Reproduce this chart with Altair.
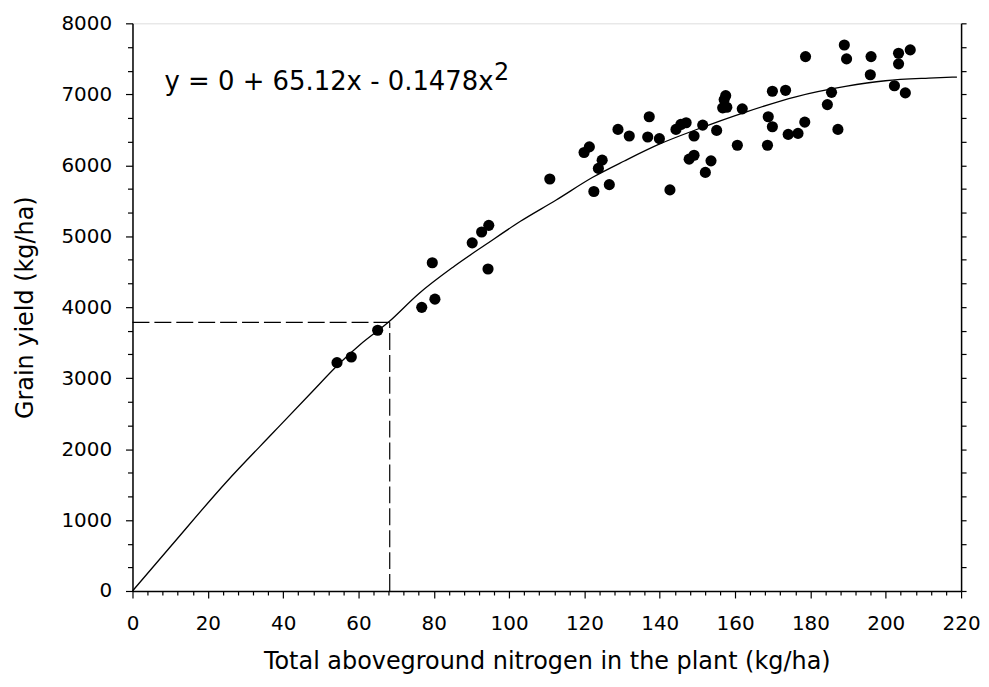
import altair as alt
import pandas as pd

nitrogen = [54.3, 58.1, 65.1, 76.8, 79.6, 80.3, 90.2, 92.7, 94.6, 94.4, 110.8, 119.9, 121.3, 122.5,
            123.7, 124.7, 126.6, 128.9, 131.9, 136.8, 137.2, 139.9, 142.7, 144.3, 145.6, 147.0,
            147.8, 149.1, 149.1, 151.4, 152.1, 153.6, 155.1, 156.7, 157.1, 157.5, 157.8, 160.6,
            161.9, 168.6, 168.8, 169.9, 169.9, 173.4, 174.1, 176.7, 178.5, 178.7, 184.5, 185.6,
            187.3, 189.0, 189.6, 195.9, 196.1, 202.3, 203.4, 203.4, 205.2, 206.5]
grain = [3218, 3297, 3675, 3997, 4626, 4113, 4906, 5060, 5153, 4537, 5806, 6179, 6258, 5630,
         5955, 6072, 5726, 6505, 6412, 6398, 6683, 6375, 5652, 6505, 6575, 6599,
         6086, 6412, 6141, 6566, 5899, 6062, 6491, 6809, 6925, 6981, 6817, 6281,
         6795, 6281, 6683, 6543, 7042, 7056, 6435, 6449, 6608, 7531, 6855, 7027,
         6505, 7694, 7499, 7275, 7531, 7121, 7578, 7429, 7019, 7625]

# Fitted curve as drawn in the picture
curve_x = [0, 10, 25, 37.5, 47.2, 55.2, 60.4, 68, 76, 85, 94, 103, 112.5, 122.2, 130.6,
           140, 149.6, 162.8, 176.1, 189.3, 199.9, 211.4, 218.9]
curve_y = [0, 620, 1540, 2240, 2780, 3220, 3470, 3790, 4190, 4560, 4890, 5210, 5510, 5830, 6060,
           6300, 6500, 6750, 6965, 7111, 7191, 7228, 7243]

# Dashed guide lines
guide_x = [0, 68.3]
guide_x2 = [68.3, 68.3]
guide_y = [3785, 0]
guide_y2 = [3785, 3785]

# Annotation
eq_text = ["y = 0 + 65.12x - 0.1478x", "2"]
eq_x = [8.5, 96.0]
eq_y = [7060, 7200]
eq_size = [26, 24]

# Axis ticks
x_ticks = list(range(0, 221, 4))
y_ticks = [(i * 1000) / 3 for i in range(25)]

pts = pd.DataFrame({"n": nitrogen, "g": grain})
crv = pd.DataFrame({"n": curve_x, "g": curve_y})
gd = pd.DataFrame({"x": guide_x, "x2": guide_x2, "y": guide_y, "y2": guide_y2})
eq = pd.DataFrame({"t": eq_text, "x": eq_x, "y": eq_y, "size": eq_size})

xscale = alt.Scale(domain=[0, 220], nice=False, zero=False)
yscale = alt.Scale(domain=[0, 8000], nice=False, zero=False)

is_major_y = "abs(datum.value - round(datum.value/1000)*1000) < 1"

common = dict(
    domainColor="black", domainWidth=1.5, tickColor="black", tickWidth=1.2,
    labelColor="black", titleColor="black", labelFont="DejaVu Sans", titleFont="DejaVu Sans",
    labelFontSize=20, titleFontSize=24, titleFontWeight="normal", grid=False,
    labelFontWeight="normal",
)

x_axis = alt.Axis(
    values=x_ticks,
    labelExpr="datum.value % 20 === 0 ? datum.label : ''",
    tickSize={"condition": {"test": "datum.value % 20 === 0", "value": 7}, "value": 4},
    labelOverlap=False, labelFlush=False, labelPadding=16, titlePadding=16,
    title="Total aboveground nitrogen in the plant (kg/ha)", format="d", **common,
)
y_axis = alt.Axis(
    values=y_ticks, orient="left",
    labelExpr=f"({is_major_y}) ? format(round(datum.value), 'd') : ''",
    tickSize={"condition": {"test": is_major_y, "value": 7}, "value": 5},
    labelOverlap=False, labelFlush=False, labelPadding=14, titlePadding=24,
    title="Grain yield (kg/ha)", **common,
)
y_axis_right = alt.Axis(
    values=y_ticks, orient="right", labels=False, tickSize=5, title=None,
    domainColor="black", domainWidth=1.5, tickColor="black", tickWidth=1.2, grid=False,
)

points = alt.Chart(pts).mark_circle(size=125, color="black", opacity=1).encode(
    x=alt.X("n:Q", scale=xscale, axis=x_axis),
    y=alt.Y("g:Q", scale=yscale, axis=y_axis),
)

line = alt.Chart(crv).mark_line(color="black", strokeWidth=1.3, interpolate="monotone").encode(
    x=alt.X("n:Q", scale=xscale, axis=None),
    y=alt.Y("g:Q", scale=yscale, axis=y_axis_right),
)

guides = alt.Chart(gd).mark_rule(color="black", strokeWidth=1.2, strokeDash=[17, 5]).encode(
    x=alt.X("x:Q", scale=xscale, axis=None),
    x2="x2:Q",
    y=alt.Y("y:Q", scale=yscale, axis=None),
    y2="y2:Q",
)

text = alt.Chart(eq).mark_text(align="left", baseline="alphabetic", font="DejaVu Sans",
                               color="black").encode(
    x=alt.X("x:Q", scale=xscale, axis=None),
    y=alt.Y("y:Q", scale=yscale, axis=None),
    text="t:N",
    size=alt.Size("size:Q", scale=None, legend=None),
)

chart = alt.layer(guides, line, points, text).resolve_axis(
    y="independent", x="independent"
).properties(
    width=832, height=570,
    padding={"left": 125, "top": 14, "right": 20, "bottom": 92},
    autosize=alt.AutoSizeParams(type="none"),
).configure_view(
    stroke="black", strokeWidth=1.5
).configure(background="white")

chart.save("out.html", embed_options={"renderer": "svg", "actions": False})
